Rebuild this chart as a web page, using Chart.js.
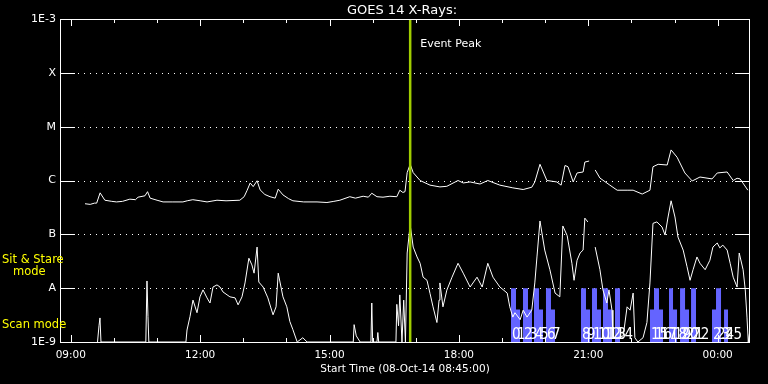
<!DOCTYPE html>
<html>
<head>
<meta charset="utf-8">
<script src="https://cdn.jsdelivr.net/npm/chart.js@4"></script>
<style>
  html, body { margin: 0; padding: 0; background: #000; }
  canvas { display: block; }
</style>
</head>
<body>
<canvas id="goesChart" width="768" height="384"></canvas>
<script>
// time in hours from 08-Oct-14 00:00, flux in W/m^2
const longTime = [9.33, 9.45, 9.55, 9.60, 9.68, 9.79, 9.95, 10.06, 10.2, 10.37, 10.5, 10.56, 10.72, 10.78, 10.84, 11.0,
    11.14, 11.35, 11.6, 11.7, 11.83, 12.0, 12.16, 12.39, 12.6, 12.92, 13.02, 13.09, 13.16, 13.23, 13.32, 13.39,
    13.5, 13.62, 13.74, 13.81, 13.92, 14.05, 14.15, 14.4, 14.71, 14.94, 15.1, 15.24, 15.47, 15.6, 15.78, 15.9,
    15.98, 16.1, 16.24, 16.4, 16.56, 16.63, 16.7, 16.75, 16.8, 16.87, 16.94, 17.1, 17.33, 17.56, 17.72, 17.98,
    18.1, 18.26, 18.49, 18.67, 18.95, 19.25, 19.49, 19.69, 19.76, 19.88, 20.04, 20.27, 20.37, 20.46, 20.53, 20.65,
    20.74, 20.88, 20.92, 21.02, 21.09, 21.16, 21.27, 21.5, 21.67, 21.9, 22.04, 22.25, 22.43, 22.5, 22.62, 22.83,
    22.92, 23.06, 23.24, 23.41, 23.59, 23.87, 23.99, 24.22, 24.36, 24.45, 24.52, 24.7];
const longFlux = [3.7e-7, 3.6e-7, 3.8e-7, 3.8e-7, 5.9e-7, 4.3e-7, 4.1e-7, 4.0e-7, 4.1e-7, 4.5e-7, 4.4e-7, 4.9e-7, 5.2e-7, 6.2e-7, 4.7e-7, 4.3e-7,
    4.0e-7, 4.0e-7, 4.0e-7, 4.2e-7, 4.4e-7, 4.2e-7, 4.0e-7, 4.3e-7, 4.2e-7, 4.3e-7, 5.0e-7, 6.6e-7, 9.0e-7, 7.7e-7, 9.9e-7, 6.7e-7,
    5.5e-7, 5.0e-7, 4.7e-7, 6.9e-7, 5.4e-7, 4.6e-7, 4.2e-7, 4.0e-7, 4.0e-7, 3.9e-7, 4.1e-7, 4.3e-7, 5.0e-7, 4.7e-7, 5.1e-7, 4.9e-7,
    5.8e-7, 5.0e-7, 4.9e-7, 5.1e-7, 5.0e-7, 6.6e-7, 6.0e-7, 6.2e-7, 1.4e-6, 2.0e-6, 1.4e-6, 1.0e-6, 8.2e-7, 7.6e-7, 7.8e-7, 1.0e-6,
    9.0e-7, 9.4e-7, 8.6e-7, 1.0e-6, 8.2e-7, 7.3e-7, 6.8e-7, 7.5e-7, 9.4e-7, 2.0e-6, 1.0e-6, 9.4e-7, 8.2e-7, 1.9e-6, 1.8e-6, 9.4e-7,
    1.38e-6, 1.44e-6, 2.2e-6, 2.3e-6, null, 1.57e-6, 1.11e-6, 8.2e-7, 6.6e-7, 6.6e-7, 6.6e-7, 5.6e-7, 6.6e-7, 1.8e-6, 2.0e-6, 1.94e-6,
    3.7e-6, 2.7e-6, 1.38e-6, 9.8e-7, 1.16e-6, 1.07e-6, 1.38e-6, 1.44e-6, 1.0e-6, 1.1e-6, 1.07e-6, 6.6e-7];

const shortTime = [9.62, 9.654, 9.677, 9.70, 10.74, 10.767, 10.79, 10.81, 11.67, 11.695, 11.764, 11.834, 11.927, 11.996, 12.066, 12.159,
    12.228, 12.298, 12.39, 12.46, 12.53, 12.69, 12.81, 12.88, 12.97, 13.04, 13.13, 13.2, 13.25, 13.32, 13.36, 13.46,
    13.57, 13.69, 13.76, 13.81, 13.92, 14.01, 14.08, 14.15, 14.25, 14.38, 14.48, 15.55, 15.57, 15.62, 15.71, 15.96,
    15.98, 16.0, 16.1, 16.12, 16.14, 16.54, 16.56, 16.6, 16.63, 16.68, 16.72, 16.76, 16.8, 16.87, 16.94, 17.03,
    17.1, 17.17, 17.26, 17.33, 17.4, 17.49, 17.54, 17.56, 17.63, 17.72, 17.84, 17.98, 18.1, 18.26, 18.42, 18.54,
    18.67, 18.79, 18.95, 19.12, 19.18, 19.25, 19.3, 19.42, 19.49, 19.58, 19.69, 19.76, 19.81, 19.88, 19.99, 20.11,
    20.23, 20.34, 20.41, 20.51, 20.62, 20.67, 20.74, 20.81, 20.88, 20.92, 20.99, 21.08, 21.16, 21.27, 21.34, 21.43,
    21.48, 21.55, 21.57, 21.67, 21.81, 21.9, 21.97, 22.04, 22.08, 22.15, 22.27, 22.36, 22.43, 22.5, 22.59, 22.71,
    22.78, 22.85, 22.92, 23.01, 23.08, 23.2, 23.29, 23.36, 23.43, 23.52, 23.59, 23.71, 23.82, 23.89, 23.99, 24.05,
    24.12, 24.22, 24.29, 24.36, 24.45, 24.5, 24.59, 24.64, 24.68, 24.71, 24.75];
const shortFlux = [1e-9, 2.0e-9, 2.8e-9, 1e-9, 1e-9, 1.36e-8, 3e-9, 1e-9, 1e-9, 1.67e-9, 2.95e-9, 6.0e-9, 3.5e-9, 6.9e-9, 9.3e-9, 6.6e-9,
    5.3e-9, 1.05e-8, 1.15e-8, 1.05e-8, 8.5e-9, 6.9e-9, 6.6e-9, 4.9e-9, 6.9e-9, 1.25e-8, 3.6e-8, 2.7e-8, 1.9e-8, 5.8e-8, 1.3e-8, 1.05e-8,
    6.6e-9, 3.2e-9, 4.5e-9, 1.9e-8, 6.9e-9, 4.5e-9, 2.4e-9, 1.7e-9, 1e-9, 1.2e-9, 1e-9, 1e-9, 2.1e-9, 1.3e-9, 1e-9, 1e-9,
    5.3e-9, 1e-9, 1e-9, 1.5e-9, 1e-9, 1e-9, 5e-9, 2e-9, 7.5e-9, 1e-9, 6e-9, 1e-9, 4.5e-8, 1.49e-7, 5.8e-8, 3.8e-8,
    2.9e-8, 1.6e-8, 1.4e-8, 8e-9, 4.5e-9, 2.3e-9, 6.0e-9, 1.25e-8, 4.5e-9, 9.2e-9, 1.6e-8, 2.9e-8, 1.9e-8, 1.05e-8, 1.6e-8, 1.05e-8,
    2.9e-8, 1.6e-8, 1.05e-8, 8.1e-9, 4.5e-9, 2.9e-9, 3.5e-9, 2.6e-9, 3.9e-9, 2.9e-9, 3.9e-9, 1.25e-8, 3.8e-8, 1.77e-7, 5.1e-8, 2.2e-8,
    8.1e-9, 6.9e-9, 1.43e-7, 9.5e-8, 2.9e-8, 1.4e-8, 3.3e-8, 4.5e-8, 5.1e-8, 2.0e-7, 1.7e-7, null, 5.8e-8, 2.2e-8, 9.3e-9, 5.3e-9,
    9.3e-9, 3.9e-9, 1.2e-9, 1.2e-9, 1.3e-9, 4.5e-9, 3.9e-9, 8.1e-9, 1.2e-9, 1e-9, 1.2e-9, 2.3e-9, 1.25e-8, 1.6e-7, 1.7e-7, 1.37e-7,
    9.7e-8, 2.1e-7, 4.2e-7, 2.1e-7, 8.9e-8, 5.1e-8, 2.5e-8, 1.4e-8, 2.2e-8, 3.8e-8, 2.9e-8, 2.2e-8, 3.3e-8, 5.8e-8, 6.9e-8, 5.6e-8,
    6.3e-8, 5.1e-8, 2.9e-8, 1.6e-8, 1.05e-8, 4.5e-8, 2.2e-8, 9.3e-9, 2.9e-9, 1e-9, 1.7e-9];

// observation scans (sit & stare = tall, scan mode = short)
const scanStart = [19.208, 19.324, 19.486, 19.602, 19.741, 19.857, 20.019, 20.135,
    20.831, 20.947, 21.086, 21.202, 21.341, 21.457, 21.62,
    22.431, 22.524, 22.64, 22.872, 22.965, 23.128, 23.244, 23.383, 23.869, 23.962, 24.148];
const scanEnd = [19.324, 19.417, 19.602, 19.695, 19.857, 19.95, 20.135, 20.228,
    20.947, 21.04, 21.202, 21.295, 21.457, 21.55, 21.736,
    22.524, 22.64, 22.733, 22.965, 23.058, 23.244, 23.336, 23.498, 23.962, 24.078, 24.241];
const scanLevel = [1e-8, 4e-9, 1e-8, 4e-9, 1e-8, 4e-9, 1e-8, 4e-9,
    1e-8, 4e-9, 1e-8, 4e-9, 1e-8, 4e-9, 1e-8,
    4e-9, 1e-8, 4e-9, 1e-8, 4e-9, 1e-8, 4e-9, 1e-8, 4e-9, 1e-8, 4e-9];

const eventPeakTime = 16.87;

const yTickValues = [1e-9, 1e-8, 1e-7, 1e-6, 1e-5, 1e-4, 1e-3];
const yTickLabels = ['1E-9', 'A', 'B', 'C', 'M', 'X', '1E-3'];
const xTickHours = [9, 12, 15, 18, 21, 24];
const xTickLabels = ['09:00', '12:00', '15:00', '18:00', '21:00', '00:00'];

const toPoints = (xs, ys) => xs.map((x, i) => ({x: x, y: ys[i]}));

let scanPoints = [];
scanStart.forEach((s, i) => {
    scanPoints.push({x: s, y: yTickValues[0]}, {x: s, y: scanLevel[i]},
        {x: scanEnd[i], y: scanLevel[i]}, {x: scanEnd[i], y: yTickValues[0]});
});

Chart.defaults.font.family = 'DejaVu Sans';
Chart.defaults.color = '#fff';

// frame, inner ticks, dotted grid and the loose texts
const goesDecor = {
    id: 'goesDecor',
    beforeDraw(chart) {
        const ctx = chart.ctx;
        ctx.save();
        ctx.fillStyle = '#000';
        ctx.fillRect(0, 0, chart.width, chart.height);
        ctx.restore();
    },
    beforeDatasetsDraw(chart) {
        const ctx = chart.ctx;
        const a = chart.chartArea;
        const ys = chart.scales.y;
        ctx.save();
        ctx.fillStyle = '#fff';
        yTickValues.slice(1, -1).forEach(v => {
            const py = Math.round(ys.getPixelForValue(v));
            ctx.fillRect(a.left, py, 15, 1);
            ctx.fillRect(a.right - 15, py, 15, 1);
            for (let px = a.left + 18; px < a.right - 16; px += 6) {
                ctx.fillRect(px, py, 1, 1);
            }
        });
        ctx.restore();
    },
    afterDraw(chart) {
        const ctx = chart.ctx;
        const a = chart.chartArea;
        const xs = chart.scales.x;
        ctx.save();
        ctx.strokeStyle = '#fff';
        ctx.lineWidth = 1;
        ctx.strokeRect(a.left + 0.5, a.top + 0.5, a.right - a.left - 1, a.bottom - a.top);

        // hour ticks on top and bottom edges
        ctx.fillStyle = '#fff';
        for (let h = 9; h <= 24; h++) {
            const px = Math.round(xs.getPixelForValue(h));
            const len = xTickHours.includes(h) ? 7 : 4;
            ctx.fillRect(px, a.top, 1, len);
            ctx.fillRect(px, a.bottom - len, 1, len);
        }

        // scan numbers
        ctx.font = '15px "DejaVu Sans Condensed", "DejaVu Sans"';
        ctx.textBaseline = 'alphabetic';
        ctx.textAlign = 'left';
        scanStart.forEach((s, i) => {
            ctx.fillText(String(i), xs.getPixelForValue(s) + 1, 339);
        });

        ctx.font = '13px "DejaVu Sans"';
        ctx.textAlign = 'center';
        ctx.fillText('GOES 14 X-Rays:', 402, 14);

        ctx.font = '11px "DejaVu Sans"';
        ctx.textAlign = 'left';
        ctx.fillText('Event Peak', xs.getPixelForValue(eventPeakTime) + 10, 47);

        ctx.font = '10.5px "DejaVu Sans"';
        ctx.textAlign = 'center';
        ctx.fillText('Start Time (08-Oct-14 08:45:00)', 405, 372);

        ctx.fillStyle = '#ffff00';
        ctx.font = '11.5px "DejaVu Sans"';
        ctx.textAlign = 'left';
        ctx.fillText('Sit & Stare', 2, 263);
        ctx.fillText('mode', 13, 275);
        ctx.fillText('Scan mode', 2, 328);
        ctx.restore();
    }
};

const goesChart = new Chart(document.getElementById('goesChart'), {
    type: 'line',
    data: {
        datasets: [
            {
                data: [{x: eventPeakTime, y: yTickValues[0]}, {x: eventPeakTime, y: yTickValues[6]}],
                borderColor: 'rgb(160, 205, 0)',
                borderWidth: 2.5,
                pointRadius: 0
            },
            {
                data: toPoints(longTime, longFlux),
                borderColor: '#fff',
                borderWidth: 1,
                pointRadius: 0,
                spanGaps: false
            },
            {
                data: toPoints(shortTime, shortFlux),
                borderColor: '#fff',
                borderWidth: 1,
                pointRadius: 0,
                spanGaps: false
            },
            {
                data: scanPoints,
                borderWidth: 0,
                borderColor: 'rgba(0,0,0,0)',
                backgroundColor: 'rgb(100, 100, 255)',
                fill: 'start',
                pointRadius: 0
            }
        ]
    },
    options: {
        responsive: false,
        animation: false,
        layout: {
            padding: {top: 19, right: 18, left: 0, bottom: 0}
        },
        plugins: {
            legend: {display: false},
            tooltip: {enabled: false},
            title: {display: false}
        },
        scales: {
            x: {
                type: 'linear',
                min: 8.75,
                max: 24.75,
                grid: {display: false, drawTicks: false},
                border: {display: false},
                afterBuildTicks: scale => {
                    scale.ticks = xTickHours.map(v => ({value: v}));
                },
                afterFit: scale => {
                    scale.height = 42;
                },
                ticks: {
                    autoSkip: false,
                    maxRotation: 0,
                    padding: 7,
                    color: '#fff',
                    font: {size: 10.5},
                    callback: (value, index) => xTickLabels[index]
                }
            },
            y: {
                type: 'logarithmic',
                min: 1e-9,
                max: 1e-3,
                grid: {display: false, drawTicks: false},
                border: {display: false},
                afterBuildTicks: scale => {
                    scale.ticks = yTickValues.map(v => ({value: v}));
                },
                afterFit: scale => {
                    scale.width = 60;
                },
                ticks: {
                    autoSkip: false,
                    padding: 4,
                    color: '#fff',
                    font: {size: 11},
                    callback: (value, index) => yTickLabels[index]
                }
            }
        }
    },
    plugins: [goesDecor]
});
</script>
</body>
</html>
